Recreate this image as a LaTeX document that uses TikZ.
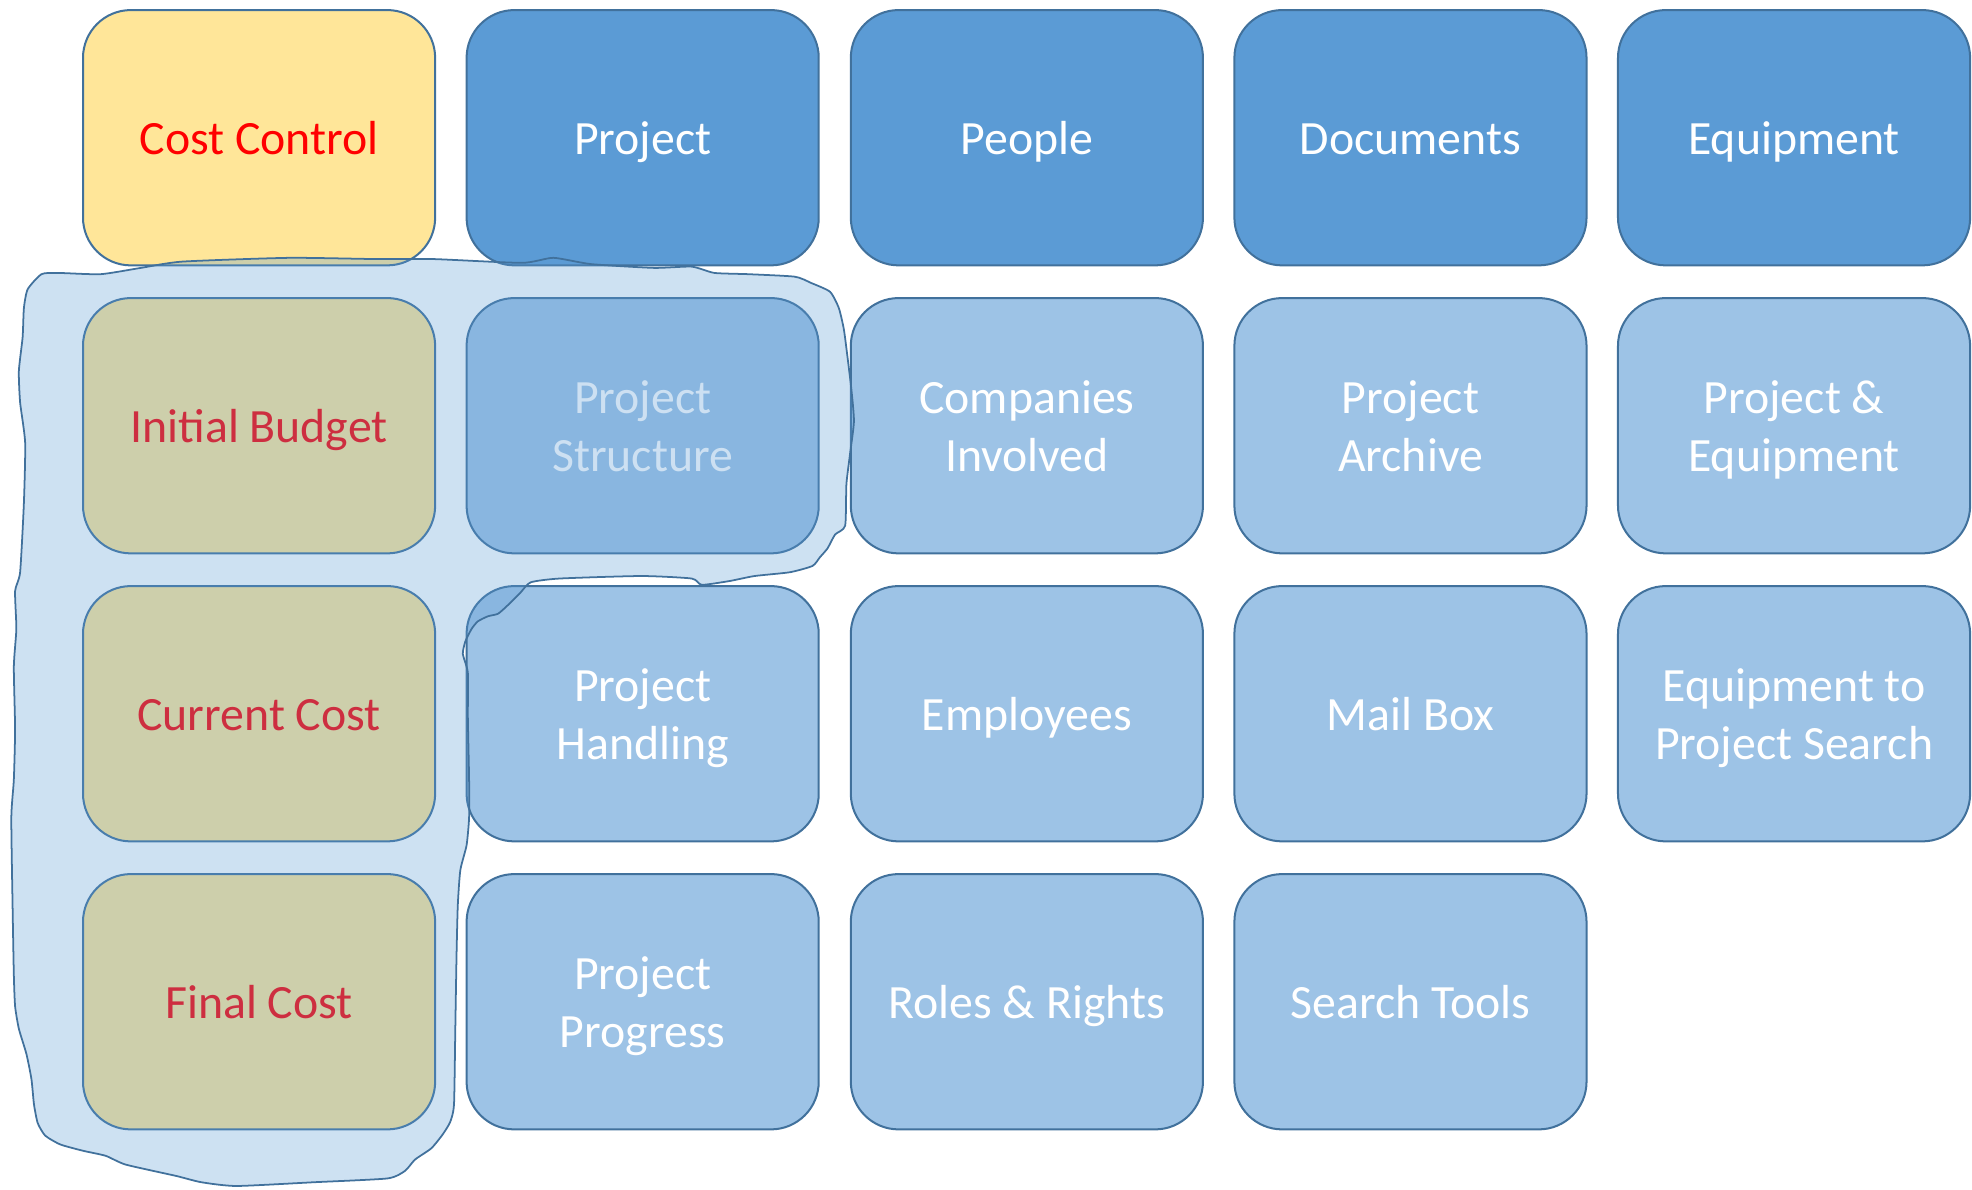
\documentclass[tikz,border=0pt]{standalone}
\usepackage{fontspec}
\setmainfont{Carlito}
\definecolor{topblue}{HTML}{5B9BD5}
\definecolor{edgeblue}{HTML}{41719C}
\definecolor{lightblue}{HTML}{9DC3E6}
\definecolor{paleyellow}{HTML}{FFE699}
\newcommand{\ts}{\rule[-10pt]{0pt}{46pt}}
\begin{document}
\begin{tikzpicture}[x=1pt,y=-1pt,
  tile/.style={rectangle, rounded corners=38pt, draw=edgeblue, line width=1.6pt,
    minimum width=280pt, minimum height=203pt, align=center, inner sep=0pt,
    font=\fontsize{38}{46}\selectfont, text=white},
  headtile/.style={tile, fill=topblue},
  subtile/.style={tile, fill=lightblue},
  costtile/.style={tile, fill=paleyellow, text=red},
  blob/.style={fill=topblue, fill opacity=0.3, draw=edgeblue, line width=1.4pt, line join=round}]
\useasboundingbox (0,0) rectangle (1568,946);
% row 1
\node[costtile] (cc) at (206,109.5) {\ts Cost Control};
\node[headtile] (proj) at (511,109.5) {\ts Project};
\node[headtile] (peop) at (816.5,109.5) {\ts People};
\node[headtile] (docs) at (1121.5,109.5) {\ts Documents};
\node[headtile] (equi) at (1426.5,109.5) {\ts Equipment};
% row 2
\node[costtile] (ib) at (206,338.5) {\ts Initial Budget};
\node[subtile] (ps) at (511,338.5) {\ts Project\\\ts Structure};
\node[subtile] (ci) at (816.5,338.5) {\ts Companies\\\ts Involved};
\node[subtile] (pa) at (1121.5,338.5) {\ts Project\\\ts Archive};
\node[subtile] (pe) at (1426.5,338.5) {\ts Project \&\\\ts Equipment};
% row 3
\node[costtile] (cuc) at (206,567.5) {\ts Current Cost};
\node[subtile] (ph) at (511,567.5) {\ts Project\\\ts Handling};
\node[subtile] (em) at (816.5,567.5) {\ts Employees};
\node[subtile] (mb) at (1121.5,567.5) {\ts Mail Box};
\node[subtile] (ep) at (1426.5,567.5) {\ts Equipment to\\\ts Project Search};
% row 4
\node[costtile] (fc) at (206,796.5) {\ts Final Cost};
\node[subtile] (pp) at (511,796.5) {\ts Project\\\ts Progress};
\node[subtile] (rr) at (816.5,796.5) {\ts Roles \& Rights};
\node[subtile] (st) at (1121.5,796.5) {\ts Search Tools};
% highlight blob
\draw[blob] plot[smooth cycle, tension=0.35] coordinates {
 (22,230) (33,218) (46,217) (80,218) (112,213) (145,208) (230,205) (300,206)
 (345,206) (415,209) (440,205) (470,210) (520,213) (550,212) (568,217)
 (595,218) (632,220) (645,225) (660,232) (667,245) (671,262) (674,285)
 (677,310) (679,335) (676,360) (673,385) (672,418) (664,425) (658,436)
 (652,443) (646,450) (628,455) (600,458) (580,462) (558,465) (550,460)
 (510,458) (445,460) (422,463) (414,471) (404,481) (396,488) (388,490)
 (380,494) (375,500) (370,510) (368,520) (372,535) (372,570) (373,620)
 (373,650) (371,672) (366,692) (364,720) (363,760) (362,820) (361,878)
 (358,892) (352,902) (343,913) (330,922) (322,931) (308,937) (250,940)
 (188,943) (160,940) (140,935) (100,926) (84,919) (66,915) (48,910)
 (36,903) (30,893) (27,878) (25,858) (21,838) (15,818) (12,800) (11,775)
 (10,720) (9,650) (11,620) (12,580) (11,530) (13,500) (12,470) (16,455)
 (19,400) (20,352) (16,320) (15,295) (18,268) (19,245) };
\end{tikzpicture}
\end{document}
